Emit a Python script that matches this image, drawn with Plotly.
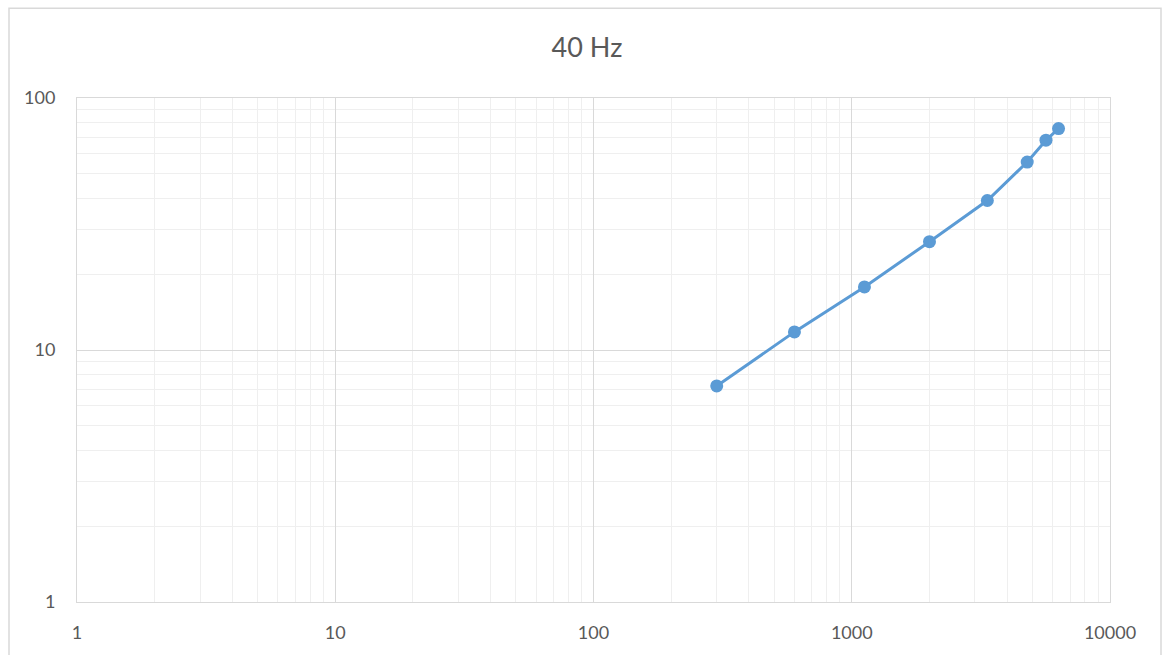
import plotly.graph_objects as go

# Measured response at 40 Hz
x_values = [300, 600, 1120, 2000, 3350, 4780, 5650, 6320]
y_values = [7.2, 11.8, 17.8, 26.9, 39.2, 55.7, 68.0, 75.6]

x_tickvals = [1, 10, 100, 1000, 10000]
x_ticktext = ["1", "10", "100", "1000", "10000"]
y_tickvals = [1, 10, 100]
y_ticktext = ["1", "10", "100"]

title_text = "40 Hz"

W, H = 1167, 655
L, R, T, B = 77, 57, 98, 51
pw, ph = W - L - R, H - T - B

font_family = "Lato, 'Open Sans', sans-serif"
text_color = "#595959"
major_grid = "#d9d9d9"
minor_grid = "#efefef"


def px_x(px):
    return (px - L) / pw


def px_y(py):
    return (H - B - py) / ph


fig = go.Figure()
fig.add_trace(go.Scatter(
    x=x_values, y=y_values,
    mode="lines+markers",
    line=dict(color="#5b9bd5", width=3),
    marker=dict(color="#5b9bd5", size=13),
    showlegend=False,
    hoverinfo="x+y",
))

axis_common = dict(
    type="log",
    showline=True, mirror=True, linecolor=major_grid, linewidth=1,
    showgrid=True, gridcolor=major_grid, gridwidth=1,
    zeroline=False,
    ticks="",
    tickfont=dict(family=font_family, size=18, color=text_color),
    minor=dict(showgrid=True, gridcolor=minor_grid, gridwidth=1, dtick="D1"),
)

fig.update_layout(
    width=W, height=H,
    margin=dict(l=L, r=R, t=T, b=B),
    paper_bgcolor="white",
    plot_bgcolor="white",
    title=dict(
        text=title_text,
        x=px_x(587), xref="paper", xanchor="center",
        y=1 - 48 / H, yanchor="middle",
        font=dict(family=font_family, size=27, color=text_color),
    ),
    xaxis=dict(axis_common, range=[0, 4], tickvals=x_tickvals, ticktext=x_ticktext,
               ticklabelstandoff=14),
    yaxis=dict(axis_common, range=[0, 2], tickvals=y_tickvals, ticktext=y_ticktext,
               ticklabelstandoff=17),
    shapes=[dict(
        type="rect", xref="paper", yref="paper",
        x0=px_x(9), x1=px_x(1161),
        y0=px_y(700), y1=px_y(8),
        line=dict(color="#d9d9d9", width=1.5),
        fillcolor="rgba(0,0,0,0)",
        layer="below",
    )],
)

fig.write_html("out.html")
